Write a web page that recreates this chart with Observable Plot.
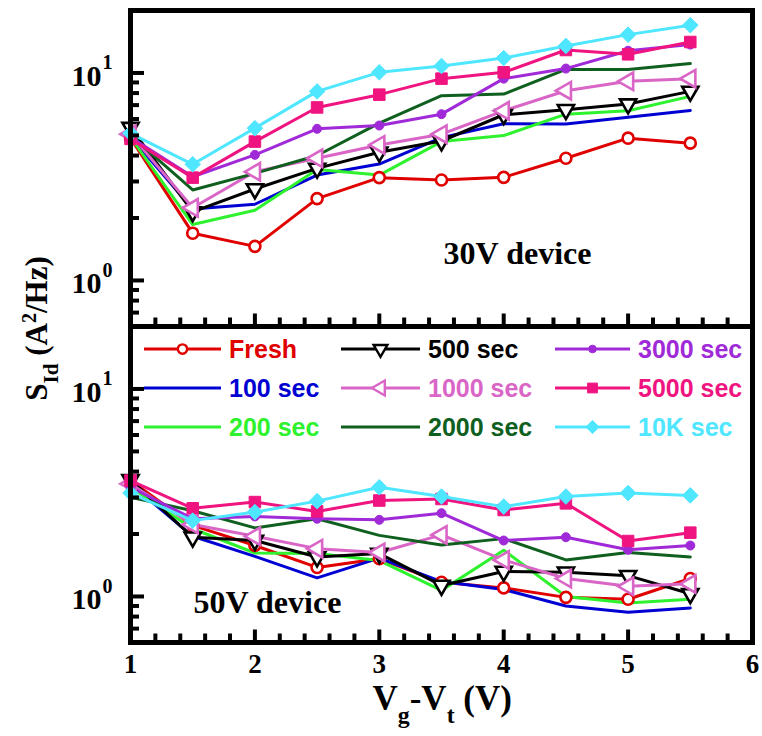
<!DOCTYPE html>
<html><head><meta charset="utf-8">
<script src="https://cdn.jsdelivr.net/npm/d3@7"></script>
<script src="https://cdn.jsdelivr.net/npm/@observablehq/plot@0.6"></script>
<style>
body{margin:0;background:#fff}
#chart{position:relative;width:762px;height:736px;overflow:hidden}
#chart svg.main{position:absolute;left:0;top:0}
.lg{position:absolute;display:flex;align-items:center;font-family:"Liberation Sans",Arial,sans-serif;font-weight:bold;font-size:25px;white-space:nowrap}
.ttl{position:absolute;font-family:"Liberation Serif","Times New Roman",serif;font-weight:bold;white-space:nowrap;color:#000;line-height:1}
.ttl sub{font-size:68%;vertical-align:-0.55em;line-height:0}
.ttl sup{font-size:65%;vertical-align:0.55em;line-height:0}
</style>
</head><body><div id="chart"></div>
<script>
// ---------- data ----------
const xVals = [1, 1.5, 2, 2.5, 3, 3.5, 4, 4.5, 5, 5.5];
const seriesNames = ["Fresh", "100 sec", "200 sec", "500 sec", "1000 sec", "2000 sec", "3000 sec", "5000 sec", "10K sec"];
const seriesColors = ["#e00000", "#0000d2", "#2ef22e", "#000000", "#d966c6", "#0f5f1f", "#a02ad8", "#ef1480", "#4fe6ff"];
const seriesSymbols = ["circle", null, null, "triangle", "triangle", null, "circle", "square", "diamond2"];
const symbolRotate = [0, 0, 0, 180, -90, 0, 0, 0, 0];
const symbolFilled = [false, false, false, false, false, false, true, true, true];
const symbolRadius = [5.5, 0, 0, 6, 6.5, 0, 4.5, 6.5, 7];
const panelNames = ["30V device", "50V device"];

// 30V device
const fresh30 = [4.85, 1.69, 1.46, 2.48, 3.13, 3.05, 3.14, 3.88, 4.85, 4.59];
const s100_30 = [4.94, 2.21, 2.33, 3.22, 3.64, 4.88, 5.69, 5.67, 6.12, 6.6];
const s200_30 = [4.9, 1.86, 2.18, 3.43, 3.22, 4.67, 4.99, 6.33, 6.57, 7.71];
const s500_30 = [5.46, 2.14, 2.76, 3.47, 4.15, 4.7, 6.29, 6.65, 7.08, 8.15];
const s1000_30 = [5.07, 2.24, 3.34, 3.88, 4.5, 5.07, 6.57, 8.21, 9.12, 9.39];
const s2000_30 = [5.0, 2.73, 3.28, 4.0, 5.73, 7.77, 7.91, 10.4, 10.4, 11.1];
const s3000_30 = [4.9, 3.16, 4.03, 5.38, 5.58, 6.33, 9.39, 10.5, 12.8, 13.7];
const s5000_30 = [4.81, 3.13, 4.67, 6.82, 7.86, 9.39, 10.07, 12.9, 12.3, 14.1];
const s10k_30 = [5.12, 3.63, 5.42, 8.15, 10.07, 10.8, 11.8, 13.5, 15.3, 17.0];

// 50V device
const fresh50 = [3.62, 2.20, 1.76, 1.38, 1.52, 1.17, 1.10, 0.99, 0.97, 1.22];
const s100_50 = [3.49, 1.95, 1.56, 1.23, 1.53, 1.18, 1.08, 0.90, 0.84, 0.88];
const s200_50 = [3.36, 2.12, 1.62, 1.61, 1.49, 1.07, 1.67, 1.0, 0.93, 0.97];
const s500_50 = [3.65, 1.93, 1.86, 1.55, 1.61, 1.13, 1.32, 1.31, 1.26, 1.03];
const s1000_50 = [3.49, 2.22, 1.95, 1.70, 1.63, 1.98, 1.50, 1.22, 1.12, 1.15];
const s2000_50 = [3.01, 2.59, 2.14, 2.37, 1.97, 1.77, 1.90, 1.50, 1.63, 1.55];
const s3000_50 = [3.36, 2.37, 2.43, 2.37, 2.34, 2.52, 1.86, 1.93, 1.68, 1.76];
const s5000_50 = [3.62, 2.66, 2.85, 2.57, 2.90, 2.95, 2.61, 2.81, 1.85, 2.03];
const s10k_50 = [3.15, 2.32, 2.55, 2.88, 3.36, 3.03, 2.71, 3.03, 3.15, 3.07];

const yMajorTicks = [1, 10];
const yMinorTicks = [0.6, 0.7, 0.8, 0.9, 2, 3, 4, 5, 6, 7, 8, 9, 20];
const xMajorTicks = [1, 2, 3, 4, 5, 6];
const xMinorTicks = [1.2, 1.4, 1.6, 1.8, 2.2, 2.4, 2.6, 2.8, 3.2, 3.4, 3.6, 3.8, 4.2, 4.4, 4.6, 4.8, 5.2, 5.4, 5.6, 5.8];

// ---------- table ----------
const panelSeries = [
  [fresh30, s100_30, s200_30, s500_30, s1000_30, s2000_30, s3000_30, s5000_30, s10k_30],
  [fresh50, s100_50, s200_50, s500_50, s1000_50, s2000_50, s3000_50, s5000_50, s10k_50]
];
const rows = [];
panelSeries.forEach((list, p) => list.forEach((vals, s) => vals.forEach((v, i) =>
  rows.push({panel: panelNames[p], series: seriesNames[s], si: s, x: xVals[i], y: v}))));

// ---------- layout ----------
const W = 762, H = 736, mL = 130, mR = 10, mT = 9, mB = 94;
const fw = W - mL - mR, fh = (H - mT - mB) / 2;
const serif = "Liberation Serif, Times New Roman, serif";

const dotMarks = [];
seriesNames.forEach((name, s) => {
  if (!seriesSymbols[s]) return;
  dotMarks.push(Plot.dot(rows.filter(d => d.si === s), {
    x: "x", y: "y", fy: "panel", symbol: () => seriesSymbols[s],
    r: symbolRadius[s], rotate: symbolRotate[s],
    stroke: "series", fill: symbolFilled[s] ? "series" : "white",
    strokeWidth: symbolFilled[s] ? 1 : 2.6
  }));
});

const plot = Plot.plot({
  width: W, height: H,
  marginLeft: mL, marginRight: mR, marginTop: mT, marginBottom: mB,
  x: {domain: [1, 6], axis: null},
  y: {type: "log", domain: [0.6, 20], axis: null},
  fy: {domain: panelNames, padding: 0, axis: null},
  color: {domain: seriesNames, range: seriesColors},
  symbol: {domain: ["circle", "triangle", "square", "diamond2"], range: ["circle", "triangle", "square", "diamond2"]},
  style: {background: "white", overflow: "visible"},
  marks: [
    Plot.line(rows, {x: "x", y: "y", z: "series", fy: "panel", stroke: "series", strokeWidth: 3, strokeLinejoin: "round"}),
    ...dotMarks,
    Plot.tickY(yMinorTicks, {y: d => d, insetRight: fw - 9, stroke: "black", strokeWidth: 4}),
    Plot.tickY(yMajorTicks, {y: d => d, insetRight: fw - 14, stroke: "black", strokeWidth: 4}),
    Plot.tickX(xMinorTicks, {x: d => d, insetTop: fh - 9, stroke: "black", strokeWidth: 4}),
    Plot.tickX(xMajorTicks, {x: d => d, insetTop: fh - 13, stroke: "black", strokeWidth: 4}),
    Plot.frame({stroke: "black", strokeWidth: 5}),
    Plot.text(yMajorTicks, {y: d => d, text: () => "10", frameAnchor: "left", textAnchor: "end", dx: -29, dy: 3,
      fontSize: 30, fontFamily: serif, fontWeight: "bold", fill: "black"}),
    Plot.text(yMajorTicks, {y: d => d, text: d => String(Math.round(Math.log10(d))), frameAnchor: "left", textAnchor: "start", dx: -28, dy: -10,
      fontSize: 20, fontFamily: serif, fontWeight: "bold", fill: "black"}),
    Plot.text(xMajorTicks.map(v => ({x: v, panel: panelNames[1]})), {x: "x", fy: "panel", text: d => String(d.x),
      frameAnchor: "bottom", lineAnchor: "top", dy: 11, fontSize: 27, fontFamily: serif, fontWeight: "bold", fill: "black"}),
    Plot.text([{panel: panelNames[0], label: panelNames[0]}], {fy: "panel", text: "label", frameAnchor: "bottom", dx: 76, dy: -63,
      fontSize: 32, fontFamily: serif, fontWeight: "bold", fill: "black"}),
    Plot.text([{panel: panelNames[1], label: panelNames[1]}], {fy: "panel", text: "label", frameAnchor: "bottom-left", textAnchor: "start", dx: 63, dy: -30,
      fontSize: 32, fontFamily: serif, fontWeight: "bold", fill: "black"})
  ]
});
plot.classList.add("main");
const chart = document.getElementById("chart");
chart.appendChild(plot);

// ---------- axis titles ----------
const yt = document.createElement("div");
yt.className = "ttl";
yt.style.fontSize = "31px";
yt.innerHTML = "S<sub>Id</sub> (A<sup>2</sup>/Hz)";
chart.appendChild(yt);
const ytw = yt.offsetWidth, yth = yt.offsetHeight;
yt.style.left = (36 - ytw / 2) + "px";
yt.style.top = (328 - yth / 2) + "px";
yt.style.transform = "rotate(-90deg)";

const xt = document.createElement("div");
xt.className = "ttl";
xt.style.fontSize = "35px";
xt.innerHTML = "V<sub>g</sub>-V<sub>t</sub> (V)";
chart.appendChild(xt);
xt.style.left = (442 - xt.offsetWidth / 2) + "px";
xt.style.top = "681px";

// ---------- legend ----------
const legendColX = [144, 341, 555];
const legendTextX = [229, 428, 638];
const legendRowY = [349, 388, 427];
const d3Sym = {circle: d3.symbolCircle, triangle: d3.symbolTriangle, square: d3.symbolSquare, diamond2: d3.symbolDiamond2};
seriesNames.forEach((name, s) => {
  const col = Math.floor(s / 3), row = s % 3;
  const item = document.createElement("div");
  item.className = "lg";
  item.style.left = legendColX[col] + "px";
  item.style.top = (legendRowY[row] - 15) + "px";
  item.style.height = "30px";
  item.style.color = seriesColors[s];
  const sw = legendTextX[col] - legendColX[col];
  const svg = d3.create("svg").attr("width", sw).attr("height", 30).style("overflow", "visible");
  svg.append("line").attr("x1", 0).attr("x2", sw - 8).attr("y1", 15).attr("y2", 15)
    .attr("stroke", seriesColors[s]).attr("stroke-width", 3);
  if (seriesSymbols[s]) {
    const r = symbolRadius[s] * 0.85;
    svg.append("path")
      .attr("d", d3.symbol(d3Sym[seriesSymbols[s]], r * r * Math.PI)())
      .attr("transform", `translate(${(sw - 8) / 2},15) rotate(${symbolRotate[s]})`)
      .attr("fill", symbolFilled[s] ? seriesColors[s] : "white")
      .attr("stroke", seriesColors[s]).attr("stroke-width", symbolFilled[s] ? 1 : 2.4);
  }
  item.appendChild(svg.node());
  const t = document.createElement("span");
  t.textContent = name;
  item.appendChild(t);
  chart.appendChild(item);
});
</script>
</body></html>
